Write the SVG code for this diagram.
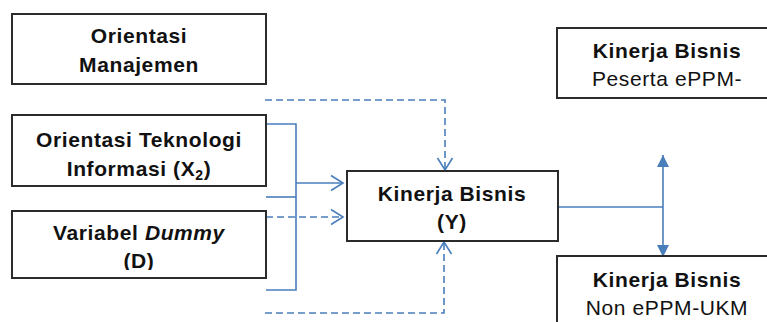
<svg xmlns="http://www.w3.org/2000/svg" width="767" height="322" viewBox="0 0 767 322">
<style>
.box{fill:#fff;stroke:#2b2b2b;stroke-width:2}
.t{font-family:"Liberation Sans",Arial,sans-serif;font-size:21px;letter-spacing:0.6px;fill:#111;text-anchor:middle}
.b{font-weight:bold}
.c{fill:none;stroke:#4a7ebb;stroke-width:1.6}
.d{stroke-dasharray:7 4}
</style>
<defs>
<marker id="open" markerUnits="userSpaceOnUse" viewBox="-14 -9 16 18" refX="0" refY="0" markerWidth="16" markerHeight="18" orient="auto">
<path d="M-12,-7.5 L0,0 L-12,7.5" fill="none" stroke="#4a7ebb" stroke-width="1.6"/>
</marker>
<marker id="tri" markerUnits="userSpaceOnUse" viewBox="-13 -7 14 14" refX="0" refY="0" markerWidth="14" markerHeight="14" orient="auto-start-reverse">
<path d="M-12,-6 L0,0 L-12,6 Z" fill="#4a7ebb"/>
</marker>
<clipPath id="clipD"><rect x="12" y="211" width="254" height="59"/></clipPath>
</defs>
<g id="connectors">
<path class="c" d="M266,124 H296 V290 H266"/>
<path class="c" d="M266,197 H296"/>
<path class="c" d="M296,183 H343" marker-end="url(#open)"/>
<path class="c d" d="M266,217 H343" marker-end="url(#open)"/>
<path class="c d" d="M265,100 H445 V170" marker-end="url(#open)"/>
<path class="c d" d="M265,313 H444 V242" marker-end="url(#open)"/>
<path class="c" d="M558,207 H663"/>
<path class="c" d="M663,155 V257" marker-start="url(#tri)" marker-end="url(#tri)"/>
</g>
<g id="orientasi-manajemen">
<rect class="box" x="12" y="14" width="254" height="70"/>
<text class="t b" x="139" y="43">Orientasi</text>
<text class="t b" x="139" y="72">Manajemen</text>
</g>
<g id="orientasi-ti">
<rect class="box" x="12" y="115" width="254" height="71"/>
<text class="t b" x="139" y="147">Orientasi Teknologi</text>
<text class="t b" x="139" y="176">Informasi (X<tspan font-size="14" dy="4">2</tspan><tspan dy="-4">)</tspan></text>
</g>
<g id="variabel-dummy">
<rect class="box" x="12" y="211" width="254" height="67"/>
<text class="t b" x="139" y="240">Variabel <tspan font-style="italic">Dummy</tspan></text>
<text class="t b" x="139" y="268" clip-path="url(#clipD)">(D)</text>
</g>
<g id="kinerja-y">
<rect class="box" x="347" y="171" width="211" height="70"/>
<text class="t b" x="452" y="201">Kinerja Bisnis</text>
<text class="t b" x="452" y="229">(Y)</text>
</g>
<g id="kinerja-peserta">
<rect class="box" x="557" y="28" width="230" height="70"/>
<text class="t b" x="667" y="58">Kinerja Bisnis</text>
<text class="t" x="667" y="86">Peserta ePPM-</text>
</g>
<g id="kinerja-non">
<rect class="box" x="557" y="256" width="230" height="90"/>
<text class="t b" x="667" y="287">Kinerja Bisnis</text>
<text class="t" x="667" y="315">Non ePPM-UKM</text>
</g>
</svg>
